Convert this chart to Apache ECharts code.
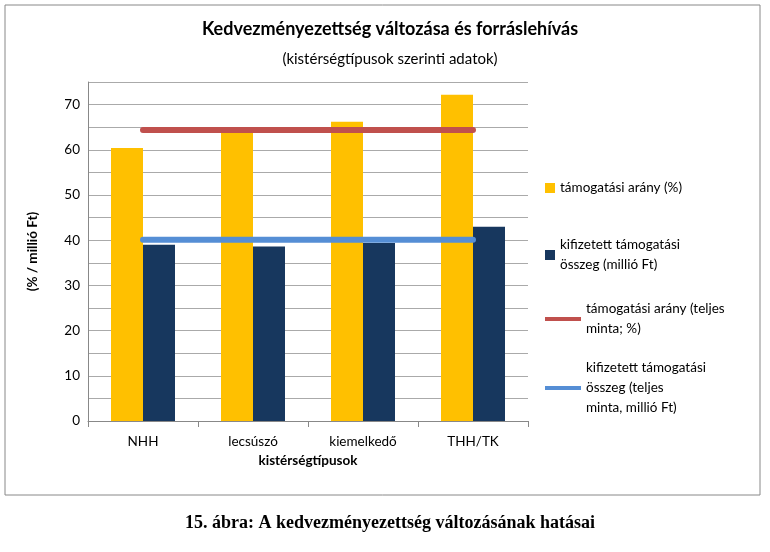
<!DOCTYPE html><html><head><meta charset="utf-8"><script src="https://cdn.jsdelivr.net/npm/echarts@6/dist/echarts.min.js"></script></head><body style="margin:0;background:#fff"><div id="c" style="width:770px;height:552px"></div><script>
const categories=['NHH','lecsúszó','kiemelkedő','THH/TK'];
const aranyValues=[60.4,64.0,66.2,72.2];
const osszegValues=[39.0,38.6,39.4,43.0];
const aranyTeljes=[64.4,64.4,64.4,64.4];
const osszegTeljes=[40.1,40.1,40.1,40.1];
const names=['támogatási arány (%)','kifizetett támogatási\nösszeg (millió Ft)','támogatási arány (teljes\nminta; %)','kifizetett támogatási\nösszeg (teljes\nminta, millió Ft)'];
const F='Lato, "Open Sans", sans-serif';
const ch=echarts.init(document.getElementById('c'));
function lg(n,top,line){return {data:[n],left:540,top:top,orient:'vertical',icon:'rect',itemWidth:line?36:10,itemHeight:line?4:10,textStyle:{fontFamily:F,fontSize:13.5,color:'#000',lineHeight:20},selectedMode:false};}
ch.setOption({
animation:false,
title:[{text:'Kedvezményezettség változása és forráslehívás',left:385,textAlign:'center',top:15,textStyle:{fontFamily:F,fontSize:18,fontWeight:'bold',color:'#000'}},
{text:'(kistérségtípusok szerinti adatok)',left:385,textAlign:'center',top:47,textStyle:{fontFamily:F,fontSize:15,fontWeight:'normal',color:'#000'}},
{text:'15. ábra: A kedvezményezettség változásának hatásai',left:385,textAlign:'center',top:509,textStyle:{fontFamily:'"Liberation Serif", serif',fontSize:18,fontWeight:'bold',color:'#000'}}],
graphic:[{type:'rect',shape:{x:5,y:5,width:755,height:490},style:{fill:null,stroke:'#888',lineWidth:1}}],
legend:[lg(names[0],173,false),lg(names[1],230,false),lg(names[2],294,true),lg(names[3],353,true)],
grid:{left:88,right:242,top:82,bottom:131},
xAxis:{type:'category',data:categories,name:'kistérségtípusok',nameLocation:'middle',nameGap:33,nameTextStyle:{fontFamily:F,fontSize:13.5,fontWeight:'bold',color:'#000'},axisLine:{lineStyle:{color:'#888'}},axisTick:{show:true,length:6,lineStyle:{color:'#888'}},axisLabel:{fontFamily:F,fontSize:13.5,color:'#000',margin:14}},
yAxis:{type:'value',min:0,max:75,interval:5,name:'(% / millió Ft)',nameLocation:'middle',nameGap:48,nameTextStyle:{fontFamily:F,fontSize:13.5,fontWeight:'bold',color:'#000'},axisLine:{show:true,lineStyle:{color:'#888'}},axisTick:{show:false},axisLabel:{fontFamily:F,fontSize:13.5,color:'#000',formatter:v=>v%10===0?v:''},splitLine:{lineStyle:{color:'#aaa'},interval:(i,v)=>false}},
series:[
{name:names[0],type:'bar',data:aranyValues,barWidth:32,barGap:'0%',itemStyle:{color:'#FFC000'}},
{name:names[1],type:'bar',data:osszegValues,barWidth:32,itemStyle:{color:'#17375E'}},
{name:names[2],type:'line',data:aranyTeljes,symbol:'none',lineStyle:{color:'#C0504D',width:6,cap:'round'},itemStyle:{color:'#C0504D'}},
{name:names[3],type:'line',data:osszegTeljes,symbol:'none',lineStyle:{color:'#558ED5',width:6,cap:'round'},itemStyle:{color:'#558ED5'}}
]});
</script></body></html>
